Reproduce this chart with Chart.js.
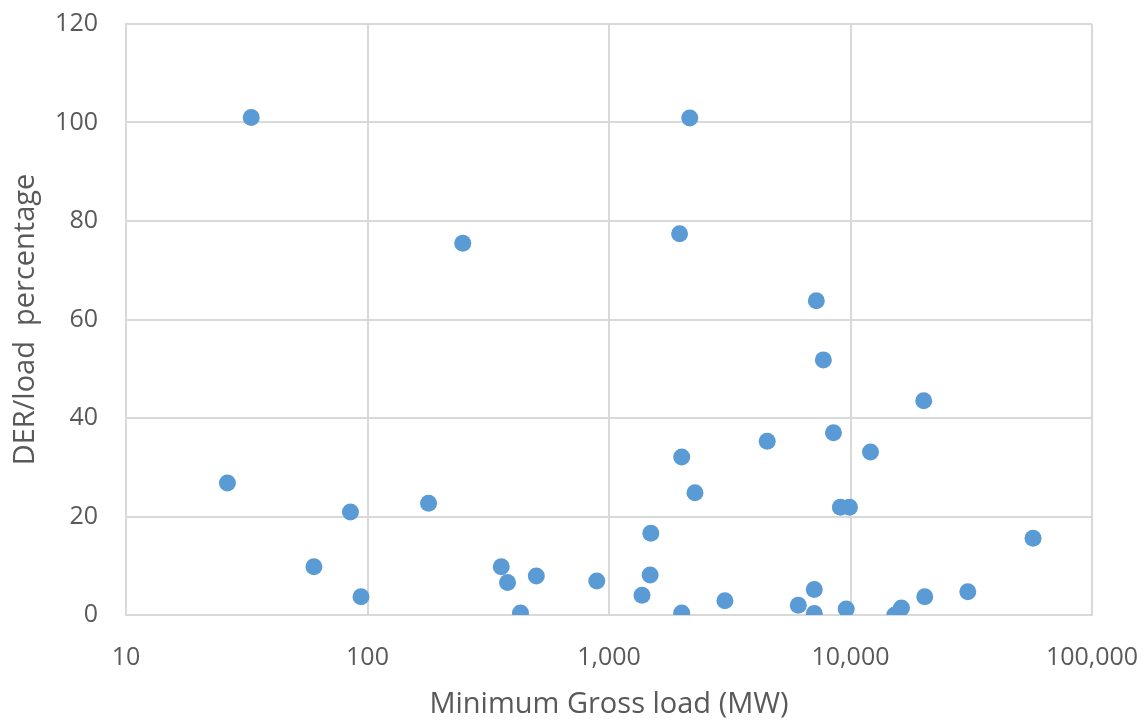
<!DOCTYPE html>
<html>
<head>
<meta charset="utf-8">
<script src="https://cdn.jsdelivr.net/npm/chart.js@4"></script>
<style>
  html, body { margin: 0; padding: 0; background: #fff; }
  #wrap { width: 1147px; height: 722px; }
</style>
</head>
<body>
<div id="wrap"><canvas id="der-chart" width="1147" height="722"></canvas></div>
<script>
// Minimum gross load (MW) vs DER/load percentage
const minGrossLoad = [33, 26.3, 60, 85, 94, 179, 248, 358, 380, 430, 500, 890,
  1370, 1480, 1490, 1960, 2000, 2000, 2160, 2270, 3020, 4520, 6080, 7080, 7080,
  7220, 7720, 8500, 9080, 9600, 9900, 12100, 15250, 16250, 20100, 20300, 30600, 57000];
const derLoadPct = [101, 26.8, 9.8, 20.9, 3.7, 22.7, 75.5, 9.8, 6.6, 0.4, 7.9, 6.9,
  4, 8.1, 16.6, 77.4, 32.1, 0.4, 100.9, 24.8, 2.9, 35.3, 2, 5.2, 0.3,
  63.8, 51.8, 37, 21.9, 1.2, 21.9, 33.1, 0, 1.4, 43.5, 3.7, 4.7, 15.6];
const xTicks = [10, 100, 1000, 10000, 100000];
const yTicks = [0, 20, 40, 60, 80, 100, 120];

const points = minGrossLoad.map((x, i) => ({ x: x, y: derLoadPct[i] }));

const textColor = '#595959';
const gridColor = '#d9d9d9';
const fontFamily = "'Open Sans', 'Liberation Sans', sans-serif";

const ctx = document.getElementById('der-chart').getContext('2d');
const derChart = new Chart(ctx, {
  type: 'scatter',
  data: {
    datasets: [{
      data: points,
      backgroundColor: '#5b9bd5',
      borderColor: '#5b9bd5',
      pointRadius: 8.5,
      pointHoverRadius: 8.5,
      borderWidth: 0
    }]
  },
  options: {
    responsive: false,
    animation: false,
    layout: { padding: { left: 8, right: 55, top: 24, bottom: 0 } },
    plugins: {
      legend: { display: false },
      tooltip: { enabled: false }
    },
    scales: {
      x: {
        type: 'logarithmic',
        min: 10,
        max: 100000,
        afterBuildTicks: (scale) => {
          scale.ticks = xTicks.map(v => ({ value: v }));
        },
        afterFit: (scale) => {
          scale.height = 107;
          scale.paddingLeft = 0;
          scale.paddingRight = 0;
        },
        grid: { color: gridColor, lineWidth: 2, drawTicks: false },
        border: { color: gridColor, width: 2 },
        ticks: {
          color: textColor,
          padding: 28,
          maxRotation: 0,
          font: { family: fontFamily, size: 25 },
          callback: (v) => Number(v).toLocaleString('en-US')
        },
        title: {
          display: true,
          text: 'Minimum Gross load (MW)',
          color: textColor,
          font: { family: fontFamily, size: 29 },
          padding: { top: 0, bottom: 0 }
        }
      },
      y: {
        min: 0,
        max: 120,
        afterBuildTicks: (scale) => {
          scale.ticks = yTicks.map(v => ({ value: v }));
        },
        afterFit: (scale) => {
          scale.width = 118;
          scale.paddingTop = 0;
          scale.paddingBottom = 0;
        },
        grid: { color: gridColor, lineWidth: 2, drawTicks: false },
        border: { color: gridColor, width: 2 },
        ticks: {
          color: textColor,
          padding: 28,
          font: { family: fontFamily, size: 25 }
        },
        title: {
          display: true,
          text: 'DER/load  percentage',
          color: textColor,
          font: { family: fontFamily, size: 29 },
          padding: { top: 0, bottom: 0 }
        }
      }
    }
  },
  plugins: [{
    // right border of the plot area
    id: 'frame',
    afterDraw(chart) {
      const a = chart.chartArea;
      const c = chart.ctx;
      c.save();
      c.strokeStyle = gridColor;
      c.lineWidth = 2;
      c.beginPath();
      c.moveTo(a.right, a.top);
      c.lineTo(a.right, a.bottom);
      c.stroke();
      c.restore();
    }
  }]
});
</script>
</body>
</html>
